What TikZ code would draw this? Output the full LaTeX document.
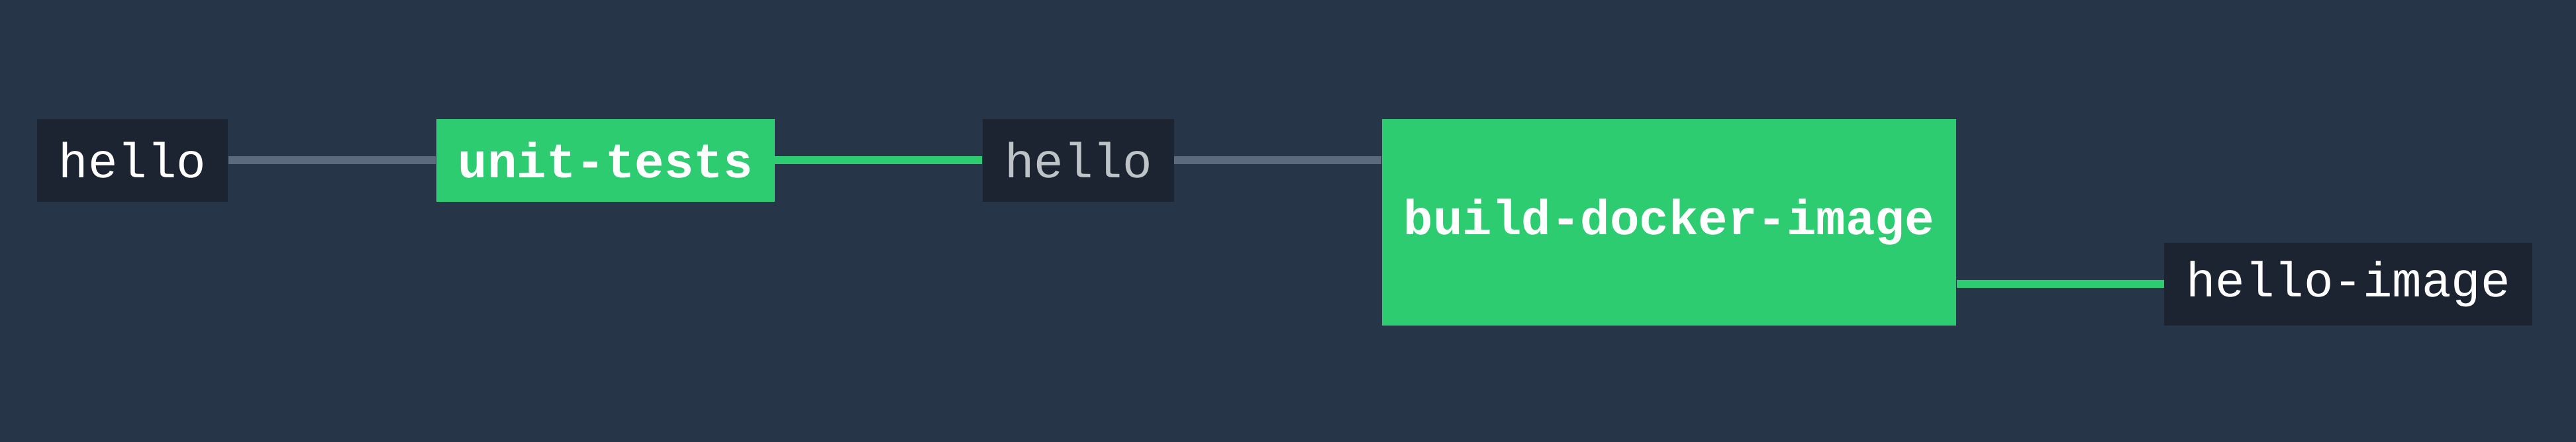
\documentclass[tikz,border=0pt]{standalone}
\usepackage{fontspec}
\setmonofont{Liberation Mono}
\usepackage{tikz}
\usetikzlibrary{positioning}
\definecolor{bgnavy}{HTML}{263648}
\definecolor{boxdark}{HTML}{1B2430}
\definecolor{jobgreen}{HTML}{2ECC71}
\definecolor{linegray}{HTML}{5B6B7D}
\definecolor{textsilver}{HTML}{BDC3C7}
\tikzstyle{resource} = [rectangle, fill=boxdark, text=white, inner xsep=0.33cm,
    minimum height=1.25cm, font=\ttfamily\fontsize{21.1}{25}\selectfont]
\tikzstyle{job} = [resource, fill=jobgreen, font=\ttfamily\bfseries\fontsize{21.1}{25}\selectfont]
\tikzstyle{line} = [draw, line width=0.12cm, linegray]
\tikzstyle{passed} = [line, jobgreen]
\begin{document}
\begin{tikzpicture}[node distance = 3.13cm]
      \fill [bgnavy] (0,0) rectangle (38.9,-6.68);
      \useasboundingbox (0,0) rectangle (38.9,-6.68);
      % Pipeline
      \node [resource, anchor=north west] (hello) at (0.55,-1.79) {hello};
      \node [job, right=of hello] (unit-tests) {unit-tests};
      \node [resource, text=textsilver, right=of unit-tests] (hello-out) {hello};
      \node [job, minimum height=3.12cm, right=of hello-out.north east, anchor=north west] (build) {build-docker-image};
      \node [resource, right=of build.south east, anchor=south west] (hello-image) {hello-image};
      % Draw edges
      \path [line] (hello) -- (unit-tests);
      \path [passed] (unit-tests) -- (hello-out);
      \path [line] (hello-out) -- (hello-out -| build.west);
      \path [passed] (build.east |- hello-image) -- (hello-image);
    \end{tikzpicture}
\end{document}
